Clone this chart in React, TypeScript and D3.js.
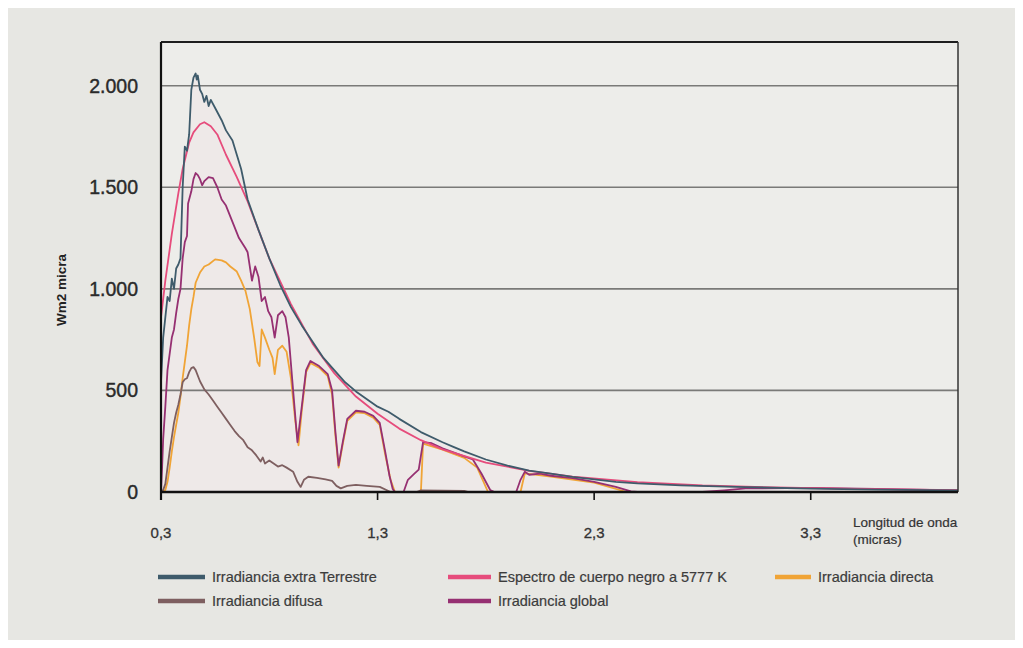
import React from 'react';
import * as d3 from 'd3';

// wavelength (micras) / irradiance pairs
const extraTerrestre: [number, number][] = [
  [0.3, 540], [0.31, 760], [0.32, 860], [0.33, 960], [0.34, 940], [0.35, 1050], [0.36, 1000],
  [0.37, 1100], [0.38, 1120], [0.39, 1150], [0.4, 1500], [0.41, 1700], [0.42, 1680], [0.43, 1760],
  [0.44, 1980], [0.45, 2040], [0.46, 2060], [0.465, 2030], [0.47, 2050], [0.48, 1980], [0.49, 1960],
  [0.5, 1920], [0.51, 1950], [0.52, 1900], [0.53, 1930], [0.55, 1890], [0.58, 1830], [0.6, 1780],
  [0.63, 1730], [0.67, 1590], [0.7, 1440], [0.75, 1290], [0.8, 1150], [0.85, 1020], [0.9, 910],
  [0.95, 820], [1.0, 740], [1.05, 660], [1.1, 600], [1.15, 540], [1.2, 495], [1.3, 420],
  [1.35, 395], [1.4, 360], [1.5, 295], [1.6, 245], [1.65, 222], [1.7, 200], [1.8, 160],
  [1.9, 130], [2.0, 105], [2.1, 90], [2.2, 74], [2.3, 62], [2.4, 50], [2.5, 42], [2.7, 33],
  [3.0, 24], [3.3, 17], [3.6, 12], [3.98, 8],
];

const cuerpoNegro: [number, number][] = [
  [0.3, 860], [0.32, 1040], [0.35, 1270], [0.38, 1470], [0.4, 1590], [0.43, 1720], [0.45, 1770],
  [0.48, 1810], [0.5, 1820], [0.53, 1800], [0.56, 1760], [0.6, 1660], [0.65, 1550], [0.7, 1430],
  [0.75, 1290], [0.8, 1150], [0.9, 925], [1.0, 730], [1.1, 585], [1.2, 470], [1.3, 385],
  [1.4, 312], [1.5, 255], [1.6, 210], [1.8, 145], [2.0, 104], [2.2, 76], [2.5, 49], [2.8, 32],
  [3.0, 26], [3.5, 15], [3.98, 9],
];

const global: [number, number][] = [
  [0.3, 0], [0.305, 120], [0.31, 260], [0.32, 420], [0.33, 600], [0.34, 680], [0.35, 760],
  [0.36, 800], [0.37, 880], [0.38, 950], [0.39, 1000], [0.4, 1150], [0.41, 1230], [0.42, 1260],
  [0.425, 1420], [0.44, 1480], [0.45, 1540], [0.46, 1570], [0.47, 1560], [0.48, 1540], [0.49, 1510],
  [0.5, 1530], [0.52, 1550], [0.54, 1545], [0.56, 1500], [0.58, 1440], [0.6, 1410], [0.63, 1330],
  [0.66, 1250], [0.69, 1200], [0.7, 1180], [0.72, 1040], [0.735, 1110], [0.75, 1060], [0.765, 940],
  [0.78, 960], [0.795, 890], [0.81, 860], [0.825, 760], [0.84, 870], [0.86, 890], [0.875, 860],
  [0.89, 760], [0.91, 500], [0.93, 245], [0.95, 420], [0.97, 600], [0.99, 645], [1.03, 620],
  [1.07, 580], [1.09, 500], [1.105, 300], [1.12, 130], [1.14, 250], [1.16, 360], [1.2, 400],
  [1.24, 395], [1.28, 375], [1.31, 340], [1.335, 200], [1.355, 80], [1.37, 15], [1.38, 0],
  [1.42, 0], [1.44, 60], [1.47, 90], [1.49, 110], [1.51, 245], [1.55, 240], [1.6, 215],
  [1.65, 195], [1.7, 175], [1.74, 160], [1.78, 90], [1.82, 10], [1.84, 0], [1.94, 0],
  [1.96, 60], [1.98, 100], [2.0, 85], [2.05, 90], [2.1, 80], [2.2, 68], [2.3, 50], [2.4, 25],
  [2.47, 3], [2.5, 0], [2.8, 0], [2.9, 8], [3.0, 18], [3.3, 20], [3.6, 15], [3.98, 8],
];

const directa: [number, number][] = [
  [0.3, 0], [0.32, 10], [0.33, 50], [0.34, 120], [0.35, 200], [0.36, 270], [0.37, 330],
  [0.38, 390], [0.39, 470], [0.4, 560], [0.41, 640], [0.42, 720], [0.43, 820], [0.44, 900],
  [0.45, 960], [0.46, 1030], [0.48, 1080], [0.5, 1110], [0.52, 1120], [0.55, 1145], [0.58, 1140],
  [0.6, 1130], [0.62, 1110], [0.65, 1085], [0.67, 1040], [0.69, 990], [0.71, 900], [0.72, 830],
  [0.73, 760], [0.745, 640], [0.755, 620], [0.765, 800], [0.78, 760], [0.8, 700], [0.815, 660],
  [0.825, 580], [0.84, 700], [0.86, 720], [0.88, 690], [0.9, 560], [0.92, 350], [0.935, 230],
  [0.95, 400], [0.97, 590], [0.99, 635], [1.03, 612], [1.07, 570], [1.09, 480], [1.105, 280],
  [1.12, 120], [1.14, 240], [1.16, 350], [1.2, 392], [1.24, 388], [1.28, 366], [1.31, 330],
  [1.335, 185], [1.36, 60], [1.38, 0], [1.5, 0], [1.51, 238], [1.6, 208], [1.7, 168],
  [1.76, 120], [1.81, 0], [1.96, 0], [1.98, 92], [2.1, 76], [2.3, 46], [2.45, 0], [3.98, 0],
];

const difusa: [number, number][] = [
  [0.3, 0], [0.31, 10], [0.32, 40], [0.33, 120], [0.34, 200], [0.35, 270], [0.36, 340],
  [0.37, 390], [0.38, 430], [0.39, 480], [0.4, 540], [0.41, 555], [0.42, 560], [0.43, 590],
  [0.44, 610], [0.45, 615], [0.46, 600], [0.48, 545], [0.5, 505], [0.52, 480], [0.54, 450],
  [0.56, 420], [0.58, 390], [0.6, 360], [0.62, 330], [0.64, 300], [0.66, 275], [0.68, 255],
  [0.7, 220], [0.72, 205], [0.74, 180], [0.76, 150], [0.77, 170], [0.78, 140], [0.8, 155],
  [0.82, 140], [0.84, 125], [0.86, 132], [0.88, 120], [0.91, 100], [0.93, 50], [0.945, 25],
  [0.96, 60], [0.98, 75], [1.02, 70], [1.06, 62], [1.09, 55], [1.11, 30], [1.13, 18],
  [1.16, 30], [1.2, 35], [1.25, 30], [1.31, 25], [1.36, 0], [1.48, 0], [1.5, 8], [1.7, 6],
  [1.72, 0], [3.98, 0],
];

const yTicks = [0, 500, 1000, 1500, 2000];
const yTickLabels = ['0', '500', '1.000', '1.500', '2.000'];
const xTicks = [0.3, 1.3, 2.3, 3.3];
const xTickLabels = ['0,3', '1,3', '2,3', '3,3'];

const series = [
  { name: 'Irradiancia directa', data: directa, color: '#f0a436' },
  { name: 'Irradiancia difusa', data: difusa, color: '#7e5f60' },
  { name: 'Irradiancia global', data: global, color: '#963072' },
  { name: 'Espectro de cuerpo negro a 5777 K', data: cuerpoNegro, color: '#e64c7c' },
  { name: 'Irradiancia extra Terrestre', data: extraTerrestre, color: '#3e5b6b' },
];

const legendItems = [
  { name: 'Irradiancia extra Terrestre', color: '#3e5b6b', x: 158, y: 577, w: 47 },
  { name: 'Irradiancia difusa', color: '#7e5f60', x: 158, y: 601, w: 47 },
  { name: 'Espectro de cuerpo negro a 5777 K', color: '#e64c7c', x: 448, y: 577, w: 43 },
  { name: 'Irradiancia global', color: '#963072', x: 448, y: 601, w: 43 },
  { name: 'Irradiancia directa', color: '#f0a436', x: 775, y: 577, w: 36 },
];

const width = 1023;
const height = 648;
const margin = { top: 42, right: 65, bottom: 156, left: 161 };

export default function App() {
  const x = d3.scaleLinear().domain([0.3, 3.98]).range([margin.left, width - margin.right]);
  const y = d3.scaleLinear().domain([0, 2215]).range([height - margin.bottom, margin.top]);

  const line = d3.line<[number, number]>()
    .x(d => x(d[0]))
    .y(d => y(d[1]));

  const area = d3.area<[number, number]>()
    .x(d => x(d[0]))
    .y0(y(0))
    .y1(d => y(d[1]));

  const font = '"Liberation Sans", Arial, sans-serif';
  const x0 = margin.left;
  const x1 = width - margin.right;
  const yBase = y(0);

  return (
    <svg width={width} height={height} style={{ position: 'absolute', left: 0, top: 0 }} fontFamily={font}>
      <rect x={0} y={0} width={width} height={height} fill='#ffffff' />
      <rect x={8} y={8} width={1007} height={632} fill='#e7e7e3' />
      <rect x={x0} y={margin.top} width={x1 - x0} height={yBase - margin.top} fill='#ededea' />

      <path d={area(extraTerrestre) || ''} fill='#f4dbe3' opacity={0.2} />

      {yTicks.filter(t => t > 0).map(t => (
        <line key={`g-${t}`} x1={x0} x2={x1} y1={y(t)} y2={y(t)} stroke='#7a7a78' strokeWidth={1.6} />
      ))}

      {series.map(s => (
        <path key={s.name} d={line(s.data) || ''} fill='none' stroke={s.color} strokeWidth={1.8} strokeLinejoin='round' />
      ))}

      {/* frame */}
      <line x1={x0} x2={x1} y1={margin.top} y2={margin.top} stroke='#1e1e1e' strokeWidth={2} />
      <line x1={x1} x2={x1} y1={margin.top} y2={yBase} stroke='#333' strokeWidth={1.5} />
      <line x1={x0} x2={x0} y1={margin.top} y2={yBase + 8} stroke='#111' strokeWidth={2.2} />
      <line x1={x0} x2={x1} y1={yBase} y2={yBase} stroke='#111' strokeWidth={2.6} />

      {xTicks.map((t, i) => (
        <g key={`x-${t}`}>
          <line x1={x(t)} x2={x(t)} y1={yBase} y2={yBase + 8} stroke='#111' strokeWidth={1.6} />
          <text x={x(t)} y={538} textAnchor='middle' fontSize={15} fill='#333' stroke='#333' strokeWidth={0.3}>{xTickLabels[i]}</text>
        </g>
      ))}

      {yTicks.map((t, i) => (
        <text key={`y-${t}`} x={138} y={y(t) + 7} textAnchor='end' fontSize={19.5} fill='#2a2a2a' stroke='#2a2a2a' strokeWidth={0.4}>{yTickLabels[i]}</text>
      ))}

      <text transform='translate(66, 290) rotate(-90)' textAnchor='middle' fontSize={13.5} fontWeight='bold' fill='#222'>Wm2 micra</text>

      <text x={853} y={527} fontSize={13.5} fill='#333' stroke='#333' strokeWidth={0.2}>Longitud de onda</text>
      <text x={853} y={544} fontSize={13.5} fill='#333' stroke='#333' strokeWidth={0.2}>(micras)</text>

      {legendItems.map(d => (
        <g key={`l-${d.name}`}>
          <line x1={d.x} x2={d.x + d.w} y1={d.y} y2={d.y} stroke={d.color} strokeWidth={4.5} />
          <text x={d.x + d.w + 7} y={d.y + 5} fontSize={14.5} fill='#3c3c3c' stroke='#3c3c3c' strokeWidth={0.2}>{d.name}</text>
        </g>
      ))}
    </svg>
  );
}
